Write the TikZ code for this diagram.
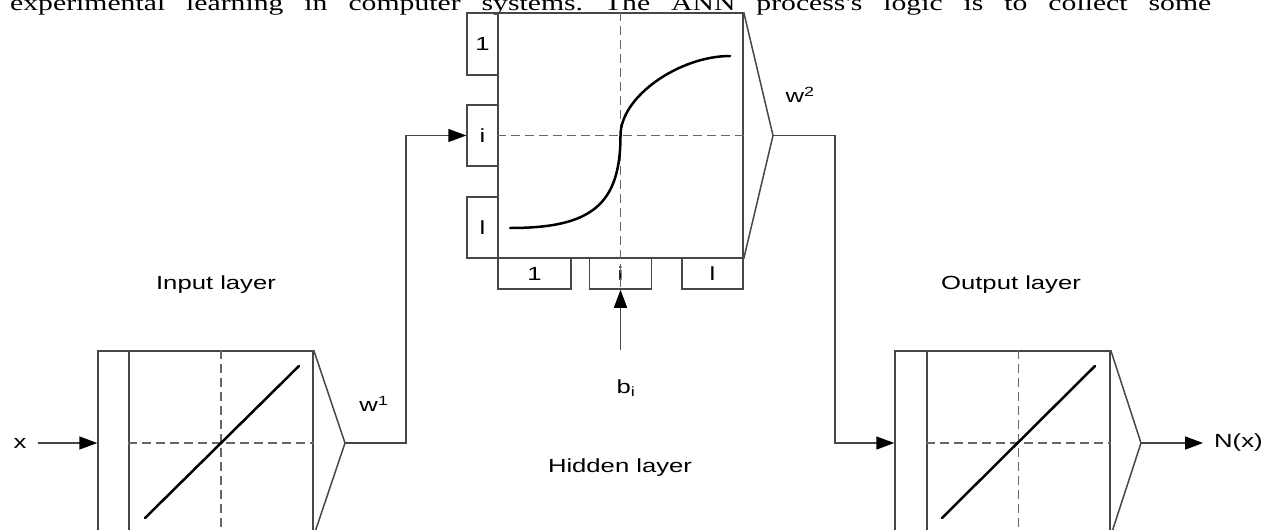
\documentclass[tikz,border=0pt]{standalone}
\usepackage{fontspec}
\setmainfont{Liberation Sans}[FakeStretch=1.35]
\newfontfamily\topfont{Liberation Serif}[FakeStretch=1.35]
\usetikzlibrary{arrows.meta}
\begin{document}
\begin{tikzpicture}[x=1pt,y=-1pt,
  wire/.style={draw=black!72, line width=1.5pt},
  heavy/.style={draw=black, line width=2.5pt, line cap=round},
  guide/.style={draw=black!60, line width=1.5pt, dash pattern=on 9pt off 5pt},
  arr/.style={wire, -{Triangle[length=18pt,width=13pt,color=black]}},
  tab/.style={wire, rectangle, inner sep=0pt, font=\fontsize{19}{19}\selectfont},
  sq/.style={wire, rectangle, inner sep=0pt},
  lbl/.style={font=\fontsize{19}{22}\selectfont, inner sep=0pt}]
\useasboundingbox (0,0) rectangle (1264,530);
\clip (0,0) rectangle (1264,530);
\fill[white] (0,0) rectangle (1264,530);

% top line of text (cut off at the top edge, as in the reference)
\node[anchor=base west, inner sep=0pt, font=\topfont\fontsize{22}{22}\selectfont] (toptext) at (10,10)
 {\hbox to 1201pt{experimental\hfill learning\hfill in\hfill computer\hfill systems.\hfill The\hfill ANN\hfill process's\hfill logic\hfill is\hfill to\hfill collect\hfill some}};

% ---------- hidden layer block ----------
\node[sq, minimum width=245pt, minimum height=245pt] (hid) at (620.5,135.5) {};
\coordinate (hT) at (773,135.5);
\draw[wire] (hid.north east) -- (hT) -- (hid.south east);
\node[tab, minimum width=31pt, minimum height=62pt] (h1) at (482.5,44) {1};
\node[tab, minimum width=31pt, minimum height=61pt] (hi) at (482.5,135.5) {i};
\node[tab, minimum width=31pt, minimum height=61pt] (hl) at (482.5,227.5) {l};
\node[tab, minimum width=73pt, minimum height=31pt] (b1) at (534.5,273.5) {1};
\node[tab, minimum width=62pt, minimum height=31pt] (bi) at (620.5,273.5) {i};
\node[tab, minimum width=61pt, minimum height=31pt] (bl) at (712.5,273.5) {l};
\draw[guide] (hid.north) -- (bi.south);
\draw[guide] (hid.west) -- (hid.east);
\draw[heavy] (510,228) .. controls (590,228) and (620.5,206) .. (620.5,135.5)
                       .. controls (620.5,96) and (680,56) .. (730,56);

% ---------- input layer block ----------
\node[sq, minimum width=184pt, minimum height=184pt] (inb) at (221,443) {};
\node[sq, minimum width=31pt, minimum height=184pt] (ins) at (113.5,443) {};
\coordinate (inT) at (345,443);
\draw[wire] (inb.north east) -- (inT) -- (inb.south east);
\draw[guide] (inb.north) -- (inb.south);
\draw[guide] (inb.west) -- (inb.east);
\draw[heavy] (145,518) -- (299,366);

% ---------- output layer block ----------
\node[sq, minimum width=183pt, minimum height=184pt] (outb) at (1018.5,443) {};
\node[sq, minimum width=32pt, minimum height=184pt] (outs) at (911,443) {};
\coordinate (oT) at (1141,443);
\draw[wire] (outb.north east) -- (oT) -- (outb.south east);
\draw[guide] (outb.north) -- (outb.south);
\draw[guide] (outb.west) -- (outb.east);
\draw[heavy] (942,518) -- (1095,366);

% ---------- labels ----------
\node[lbl] (inlab) at (216,285) {Input layer};
\node[lbl] (outlab) at (1011,285) {Output layer};
\node[lbl] (hidlab) at (620,468) {Hidden layer};
\node[lbl] (w1) at (374,404) {w\textsuperscript{1}};
\node[lbl] (w2) at (800,95) {w\textsuperscript{2}};
\node[lbl] (bil) at (626,388) {b\textsubscript{i}};
\node[lbl] (xl) at (20,443) {x};
\node[lbl, anchor=west] (nx) at (1214,443) {N(x)};

% ---------- connectors ----------
\coordinate (j1) at (406,443);
\coordinate (j2) at (835,443);
\coordinate (bs) at (620.5,350);
\draw[arr, shorten <=11pt] (xl) -- (ins.west);
\draw[arr] (inT) -- (j1) |- (hi.west);
\draw[arr] (hT) -| (j2) -- (outs.west);
\draw[arr] (bs) -- (bi.south);
\draw[arr, shorten >=11pt] (oT) -- (nx.west);
\end{tikzpicture}
\end{document}
